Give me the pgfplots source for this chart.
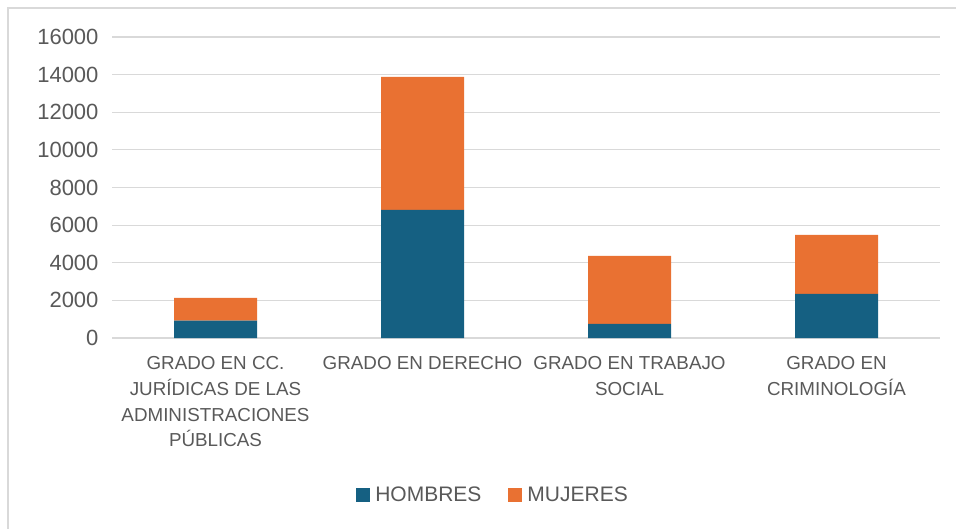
\documentclass[border=0pt]{standalone}
\usepackage{fontspec}
\setmainfont{Liberation Sans}
\usepackage{pgfplots}
\pgfplotsset{compat=1.18}
\definecolor{cblue}{HTML}{156082}
\definecolor{corange}{HTML}{E97132}
\definecolor{gridgray}{HTML}{D9D9D9}
\definecolor{txtgray}{HTML}{595959}
\begin{document}
\begin{tikzpicture}[x=1pt,y=1pt]
\useasboundingbox (0,0) rectangle (956,528);
\draw[gridgray, line width=1.2pt] (8,-5) -- (8,520) -- (970,520);
\begin{axis}[
  at={(112pt,190pt)}, anchor=south west,
  scale only axis, width=828pt, height=301pt,
  ybar stacked, bar width=83pt,
  xmin=-0.5, xmax=3.5, ymin=0, ymax=16000,
  ytick={0,2000,...,16000},
  xtick={0,1,2,3},
  xticklabels={{GRADO EN CC.\\JURÍDICAS DE LAS\\ADMINISTRACIONES\\PÚBLICAS},{GRADO EN DERECHO},{GRADO EN TRABAJO\\SOCIAL},{GRADO EN\\CRIMINOLOGÍA}},
  xticklabel style={align=center, font=\fontsize{18.8}{25.7}\selectfont, text=txtgray, anchor=north, yshift=-15pt},
  yticklabel style={font=\fontsize{22}{26}\selectfont, text=txtgray, xshift=-10pt},
  /pgf/number format/assume math mode=true,
  /pgf/number format/1000 sep={},
  scaled y ticks=false,
  axis line style={draw=none},
  major tick style={draw=none},
  ymajorgrids, grid style={gridgray, line width=1.2pt},
  legend style={at={(0.462,-0.5216)}, anchor=center, draw=none, legend columns=2,
    font=\fontsize{21}{25}\selectfont, text=txtgray,
    /tikz/every even column/.append style={column sep=22pt},
    nodes={inner sep=5pt}},
  legend cell align=left,
  legend image code/.code={\fill[#1] (0pt,-7pt) rectangle (14pt,7pt);},
]
\addplot[fill=cblue, draw=none] coordinates {(0,920) (1,6810) (2,745) (3,2340)};
\addplot[fill=corange, draw=none] coordinates {(0,1210) (1,7070) (2,3617) (3,3139)};
\legend{HOMBRES, MUJERES}
\end{axis}
\end{tikzpicture}
\end{document}
